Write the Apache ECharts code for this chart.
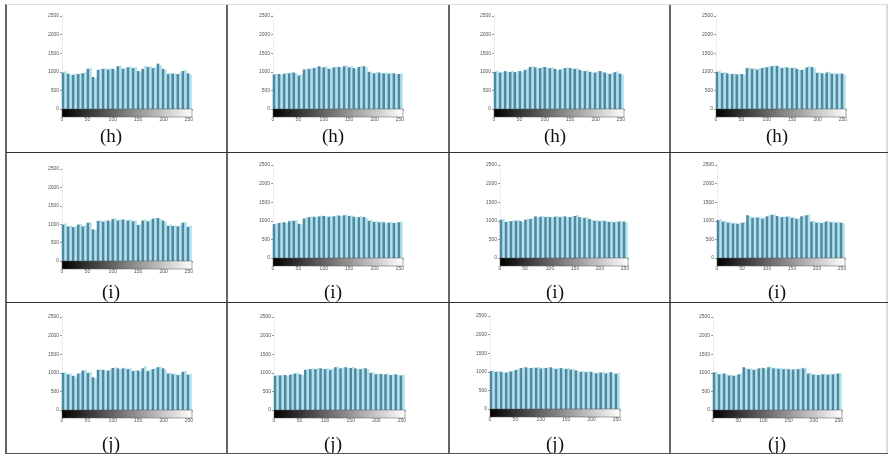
<!DOCTYPE html>
<html>
<head>
<meta charset="utf-8">
<script src="https://cdn.jsdelivr.net/npm/echarts@6/dist/echarts.min.js"></script>
<style>html,body{margin:0;padding:0;background:#fff}#c{width:888px;height:454px}</style>
</head>
<body>
<div id="c"></div>
<script>
// ---- data ----
const darkBins  = [2,12,22,32,41,51,61,71,81,91,100,110,120,130,140,150,159,169,179,189,199,209,218,228,238,248];
const lightBins = [7,17,27,37,46,56,66,76,86,96,105,115,125,135,145,155,164,174,184,194,204,214,223,233,243,253];
const panelLabels = ['(h)', '(i)', '(j)'];

const h1Dark  = [980,950,920,940,960,1080,860,1050,1080,1060,1080,1150,1080,1120,1100,1020,1080,1130,1100,1220,1080,940,950,940,1020,960];
const h1Light = [1010,930,950,960,990,1110,840,1080,1100,1090,1060,1170,1110,1140,1130,1000,1160,1150,1130,1180,1050,970,960,980,1050,930];
const h2Dark  = [930,940,950,960,980,900,1060,1080,1100,1150,1120,1080,1120,1130,1150,1120,1100,1130,1150,1000,960,980,960,950,960,940];
const h2Light = [950,920,970,990,960,930,1080,1100,1130,1120,1150,1100,1140,1110,1170,1150,1080,1150,1120,980,990,960,980,970,940,960];
const h3Dark  = [1000,980,1020,1000,990,1020,1050,1130,1120,1100,1130,1100,1080,1060,1100,1100,1080,1050,1020,1000,980,1020,980,940,990,950];
const h3Light = [1030,990,1000,1030,1010,1000,1080,1150,1100,1130,1110,1120,1050,1090,1120,1080,1100,1030,1040,980,1010,1000,960,960,1010,930];
const h4Dark  = [1000,970,960,940,930,940,1100,1080,1060,1100,1120,1150,1160,1100,1120,1100,1080,1050,1120,1130,970,960,980,950,940,950];
const h4Light = [1030,990,940,960,950,920,1120,1100,1090,1130,1150,1170,1140,1130,1100,1120,1060,1080,1150,1110,990,940,1000,970,960,930];

const i1Dark  = [990,940,920,990,940,1040,860,1090,1070,1100,1140,1100,1130,1100,1080,980,1100,1080,1150,1170,1100,960,950,940,1040,930];
const i1Light = [1020,960,940,1010,970,1060,840,1110,1100,1080,1160,1130,1110,1130,1100,1000,1130,1110,1170,1150,1070,990,970,970,1060,960];
const i2Dark  = [910,940,960,990,1000,920,1060,1100,1110,1120,1130,1110,1120,1140,1150,1130,1110,1100,1100,1000,970,960,960,950,940,960];
const i2Light = [930,960,940,1010,1020,900,1090,1120,1100,1140,1120,1130,1150,1120,1170,1150,1090,1120,1080,1020,990,980,940,970,960,980];
const i3Dark  = [1030,970,990,1000,990,1030,1050,1120,1110,1100,1100,1110,1100,1120,1100,1130,1100,1080,1050,1000,990,1000,970,960,980,980];
const i3Light = [1050,990,1010,1020,970,1060,1070,1100,1130,1120,1090,1130,1120,1100,1120,1160,1080,1100,1030,1020,1010,980,990,980,1000,960];
const i4Dark  = [1020,980,950,930,920,950,1150,1080,1090,1060,1120,1160,1130,1100,1110,1080,1050,1120,1150,980,950,940,980,960,950,950];
const i4Light = [1040,1000,970,950,940,970,1130,1100,1110,1090,1150,1180,1110,1120,1130,1100,1070,1140,1170,1000,970,960,1000,980,970,930];

const j1Dark  = [1000,960,920,980,1060,1000,880,1080,1080,1060,1130,1120,1120,1100,1050,1060,1120,1050,1100,1150,1120,980,960,940,1030,950];
const j1Light = [1020,980,900,1000,1080,1030,860,1100,1060,1090,1150,1100,1140,1130,1070,1040,1180,1080,1130,1170,1090,1000,980,970,1050,970];
const j2Dark  = [920,930,940,950,980,960,1080,1100,1100,1120,1100,1080,1150,1120,1150,1130,1120,1100,1120,1000,960,970,960,940,960,930];
const j2Light = [940,950,920,970,1000,940,1100,1120,1130,1100,1130,1110,1170,1140,1130,1160,1100,1130,1100,1020,980,950,980,960,940,950];
const j3Dark  = [1020,1000,1000,980,1010,1050,1100,1120,1100,1110,1090,1100,1120,1080,1100,1080,1060,1040,1000,990,1000,960,980,960,990,950];
const j3Light = [1040,1020,980,1000,1030,1070,1120,1100,1120,1130,1110,1120,1100,1100,1080,1100,1080,1020,1020,1010,980,980,1000,980,970,970];
const j4Dark  = [1010,960,980,930,920,960,1150,1100,1080,1120,1130,1150,1120,1110,1100,1100,1090,1100,1120,980,950,940,960,950,960,980];
const j4Light = [1030,980,960,950,940,980,1130,1120,1100,1140,1110,1170,1140,1130,1120,1080,1110,1120,1140,1000,970,960,980,970,980,1000];

// ---- layout (pixel positions of each panel's plot box) ----
const panels = [
  {dark:h1Dark, light:h1Light, left:62,  top:16,  w:130, zero:109},
  {dark:h2Dark, light:h2Light, left:273, top:16,  w:130, zero:109},
  {dark:h3Dark, light:h3Light, left:494, top:16,  w:130, zero:109},
  {dark:h4Dark, light:h4Light, left:716, top:16,  w:130, zero:109},
  {dark:i1Dark, light:i1Light, left:62,  top:169, w:130, zero:261},
  {dark:i2Dark, light:i2Light, left:273, top:165, w:130, zero:258},
  {dark:i3Dark, light:i3Light, left:500, top:165, w:128, zero:258},
  {dark:i4Dark, light:i4Light, left:717, top:165, w:128, zero:258},
  {dark:j1Dark, light:j1Light, left:62,  top:317, w:130, zero:410},
  {dark:j2Dark, light:j2Light, left:274, top:317, w:131, zero:410},
  {dark:j3Dark, light:j3Light, left:490, top:316, w:130, zero:409},
  {dark:j4Dark, light:j4Light, left:713, top:317, w:129, zero:410}
];
const labelY = [137, 293, 445];
const DARK = '#4f88a0', LIGHT = '#afe3ee';

const grid = [], xAxis = [], yAxis = [], series = [], graphic = [];
const plain = v => String(v);
panels.forEach((p, k) => {
  grid.push({left: p.left, top: p.top, width: p.w, height: p.zero - p.top, containLabel: false});
  const axLbl = {fontSize: 5, color: '#555', fontFamily: 'Liberation Sans', formatter: plain};
  xAxis.push({gridIndex:k, type:'value', min:0, max:256, interval:50, position:'bottom',
    axisLine:{show:false}, axisTick:{show:false}, splitLine:{show:false},
    axisLabel:Object.assign({margin:8, showMaxLabel:false}, axLbl)});
  xAxis.push({gridIndex:k, type:'value', min:0, max:256, interval:50, position:'top',
    axisLine:{show:true, lineStyle:{color:'#ececec', width:1}},
    axisTick:{show:true, inside:true, length:2, lineStyle:{color:'#bbb'}},
    axisLabel:{show:false}, splitLine:{show:false}});
  yAxis.push({gridIndex:k, type:'value', min:0, max:2500, interval:500, position:'left',
    axisLine:{show:true, lineStyle:{color:'#888', width:1}},
    axisTick:{show:true, length:2, lineStyle:{color:'#888'}}, splitLine:{show:false},
    axisLabel:Object.assign({margin:3}, axLbl)});
  yAxis.push({gridIndex:k, type:'value', min:0, max:2500, interval:500, position:'right',
    axisLine:{show:true, lineStyle:{color:'#ececec', width:1}},
    axisTick:{show:true, inside:true, length:2, lineStyle:{color:'#999'}},
    axisLabel:{show:false}, splitLine:{show:false}});
  series.push({type:'bar', xAxisIndex:2*k, yAxisIndex:2*k, barWidth:2.6, barGap:'-100%',
    data: lightBins.map((b, i) => [b, p.light[i]]), itemStyle:{color: LIGHT}, silent:true, z:2});
  series.push({type:'bar', xAxisIndex:2*k, yAxisIndex:2*k, barWidth:2.6, barGap:'-100%',
    data: darkBins.map((b, i) => [b, p.dark[i]]), itemStyle:{color: DARK}, silent:true, z:3});
  // grayscale colour bar under the plot
  graphic.push({type:'rect', shape:{x:p.left, y:p.zero, width:p.w, height:8},
    style:{fill:new echarts.graphic.LinearGradient(0,0,1,0,[{offset:0,color:'#000'},{offset:1,color:'#fff'}]),
      stroke:'#555', lineWidth:0.5}, z:10});
});

// panel labels
[0,1,2].forEach(r => {
  [0,1,2,3].forEach(c => {
    graphic.push({type:'text', x: 111 + 222*c, y: labelY[r],
      style:{text: panelLabels[r], fontFamily:'Liberation Serif', fontSize:19, fill:'#111',
        align:'center', verticalAlign:'middle'}, z:10});
  });
});
// table rules
[6, 227, 449, 670].forEach(x => graphic.push({type:'line', shape:{x1:x, y1:4, x2:x, y2:454},
  style:{stroke:'#666', lineWidth:2}, z:10}));
graphic.push({type:'line', shape:{x1:887, y1:4, x2:887, y2:454}, style:{stroke:'#bbb', lineWidth:1}, z:10});
graphic.push({type:'line', shape:{x1:6, y1:4.5, x2:888, y2:4.5}, style:{stroke:'#ddd', lineWidth:1}, z:10});
[152.5, 302.5].forEach(y => graphic.push({type:'line', shape:{x1:6, y1:y, x2:888, y2:y},
  style:{stroke:'#333', lineWidth:1}, z:10}));
graphic.push({type:'line', shape:{x1:6, y1:453.5, x2:888, y2:453.5}, style:{stroke:'#555', lineWidth:1}, z:10});

const chart = echarts.init(document.getElementById('c'), null, {renderer:'canvas'});
chart.setOption({animation:false, backgroundColor:'#fff', grid, xAxis, yAxis, series, graphic});
</script>
</body>
</html>
